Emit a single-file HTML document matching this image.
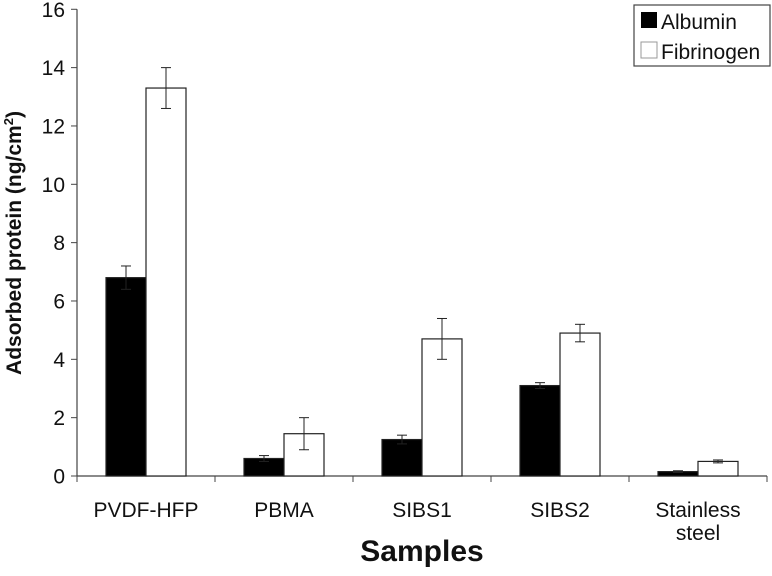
<!DOCTYPE html>
<html><head><meta charset="utf-8"><style>
body{margin:0;background:#fff}
svg text{font-family:"Liberation Sans",Arial,sans-serif;fill:#111}
</style></head><body>
<svg id="c" width="772" height="571" xmlns="http://www.w3.org/2000/svg"></svg>
<script>
const categories=["PVDF-HFP","PBMA","SIBS1","SIBS2","Stainless|steel"];
const albumin=[6.8,0.6,1.25,3.1,0.15];
const albuminErr=[0.4,0.1,0.15,0.1,0.03];
const fibrinogen=[13.3,1.45,4.7,4.9,0.5];
const fibrinogenErr=[0.7,0.55,0.7,0.3,0.05];
const yTicks=[0,2,4,6,8,10,12,14,16];
const NS="http://www.w3.org/2000/svg";
const svg=document.getElementById('c');
const x0=77,cw=138,y0=476,k=29.17,bw=40;
const Y=v=>y0-v*k;
const X=i=>x0+i*cw;
function el(t,a,p){const e=document.createElementNS(NS,t);for(const q in a)e.setAttribute(q,a[q]);(p||svg).appendChild(e);return e;}
const ax=el('line',{x1:x0,y1:Y(16),x2:x0,y2:y0,stroke:'#444','stroke-width':1.2});


const xa=el('line',{x1:x0,y1:y0,x2:X(5),y2:y0,stroke:'#444','stroke-width':1.2});


yTicks.forEach(v=>{
 el('line',{x1:x0-6,y1:Y(v),x2:x0,y2:Y(v),stroke:'#444'});
 const t=el('text',{x:x0-12,y:Y(v)+7.5,'text-anchor':'end','font-size':21});
 t.textContent=v;
 
 
});
for(let i=0;i<=5;i++)el('line',{x1:X(i),y1:y0,x2:X(i),y2:y0+6,stroke:'#444'});
function bar(i,v,e,fill,off,name){
 const b=el('rect',{x:X(i)+29+off,y:Y(v),width:bw,height:v*k,fill:fill,stroke:'#222','stroke-width':1.2});
 
 
 const cx=X(i)+29+off+bw/2;
 el('line',{x1:cx,y1:Y(v+e),x2:cx,y2:Y(v-e),stroke:'#222'});
 el('line',{x1:cx-5,y1:Y(v+e),x2:cx+5,y2:Y(v+e),stroke:'#222'});
 el('line',{x1:cx-5,y1:Y(v-e),x2:cx+5,y2:Y(v-e),stroke:'#222'});
}
categories.forEach((c,i)=>{
 bar(i,albumin[i],albuminErr[i],'#000',0,'bar-albumin');
 bar(i,fibrinogen[i],fibrinogenErr[i],'#fff',bw,'bar-fibrinogen');
 const parts=c.split('|');
 parts.forEach((p,j)=>{
  const t=el('text',{x:X(i)+cw/2,y:517+j*23,'text-anchor':'middle','font-size':21});
  t.textContent=p;
  
  
 });
});
const xt=el('text',{x:X(2.5),y:561,'text-anchor':'middle','font-size':30,'font-weight':'bold'});
xt.textContent='Samples';


const yt=el('text',{transform:'translate(21,243) rotate(-90)','text-anchor':'middle','font-size':21,'font-weight':'bold'});
yt.innerHTML='Adsorbed protein (ng/cm<tspan dy="-8" font-size="13">2</tspan><tspan dy="8">)</tspan>';


const lg=el('g',{});


el('rect',{x:634,y:5,width:136,height:61,fill:'#fff',stroke:'#444','stroke-width':1.2},lg);
el('rect',{x:641,y:12,width:16,height:16,fill:'#000'},lg);
el('rect',{x:641,y:42,width:16,height:16,fill:'#fff',stroke:'#999'},lg);
const l1=el('text',{x:661,y:29,'font-size':21},lg);l1.textContent='Albumin';


const l2=el('text',{x:661,y:59,'font-size':21},lg);l2.textContent='Fibrinogen';


</script>
</body></html>
